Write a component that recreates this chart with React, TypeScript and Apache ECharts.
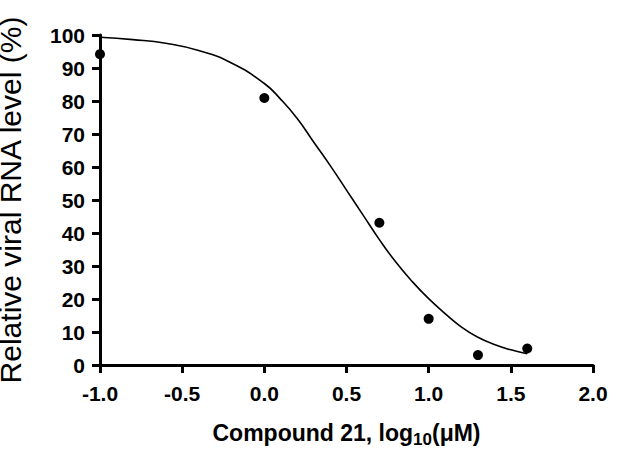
import React, { useEffect, useRef } from "react";
import * as echarts from "echarts";

const pointX = [-1.0, 0.0, 0.7, 1.0, 1.3, 1.6];
const pointY = [94.2, 80.9, 43.1, 14.0, 3.0, 5.0];

const curveX = [-1.0, -0.8, -0.6, -0.4, -0.2, 0.0, 0.1, 0.2, 0.3, 0.4, 0.5, 0.6, 0.7, 0.8, 0.9, 1.0, 1.1, 1.2, 1.3, 1.4, 1.5, 1.6];
const curveY = [99.3, 98.6, 97.5, 95.3, 91.5, 85.3, 80.5, 74.7, 67.6, 60.5, 53.0, 45.5, 38.0, 31.2, 25.3, 20.1, 15.6, 11.5, 8.4, 6.2, 4.6, 3.4];

const xTicks = { min: -1.0, max: 2.0, interval: 0.5 };
const yTicks = { min: 0, max: 100, interval: 10 };

const xTitle = "{a|Compound 21, log}{s|10}{a|(μM)}";
const yTitle = "Relative viral RNA level (%)";

export default function App() {
  const ref = useRef<HTMLDivElement>(null);
  useEffect(() => {
    if (!ref.current) return;
    const chart = echarts.init(ref.current, undefined, { renderer: "svg" });
    const font = "'Liberation Sans', Arial, Helvetica, sans-serif";
    chart.setOption({
      animation: false,
      backgroundColor: "#ffffff",
      grid: {
        left: 100,
        right: 25,
        top: 35,
        bottom: 89,
        containLabel: false,
        outerBoundsMode: "none",
      },
      xAxis: {
        type: "value",
        min: xTicks.min,
        max: xTicks.max,
        interval: xTicks.interval,
        name: xTitle,
        nameLocation: "middle",
        nameGap: 56,
        nameTextStyle: {
          rich: {
            a: { fontFamily: font, fontWeight: "bold", fontSize: 23, color: "#000", lineHeight: 26, verticalAlign: "top" },
            s: { fontFamily: font, fontWeight: "bold", fontSize: 17, color: "#000", lineHeight: 20, verticalAlign: "top", padding: [10, 0, 0, 0] },
          },
        },
        axisLine: { show: true, onZero: false, lineStyle: { color: "#000", width: 3 } },
        axisTick: { show: true, inside: false, length: 8, lineStyle: { color: "#000", width: 3 } },
        axisLabel: {
          fontFamily: font,
          fontWeight: "bold",
          fontSize: 21,
          color: "#000",
          margin: 18,
          formatter: (v: number) => v.toFixed(1),
        },
        splitLine: { show: false },
      },
      yAxis: {
        type: "value",
        min: yTicks.min,
        max: yTicks.max,
        interval: yTicks.interval,
        name: yTitle,
        nameLocation: "middle",
        nameGap: 75,
        nameRotate: 90,
        nameTextStyle: { fontFamily: font, fontSize: 30, color: "#000" },
        axisLine: { show: true, onZero: false, lineStyle: { color: "#000", width: 3 } },
        axisTick: { show: true, inside: false, length: 8, lineStyle: { color: "#000", width: 3 } },
        axisLabel: {
          fontFamily: font,
          fontWeight: "bold",
          fontSize: 21,
          color: "#000",
          margin: 15,
        },
        splitLine: { show: false },
      },
      series: [
        {
          type: "line",
          data: curveX.map((x, i) => [x, curveY[i]]),
          smooth: 0.5,
          showSymbol: false,
          lineStyle: { color: "#000", width: 1.6 },
          z: 2,
        },
        {
          type: "scatter",
          data: pointX.map((x, i) => [x, pointY[i]]),
          symbol: "circle",
          symbolSize: 10,
          itemStyle: { color: "#000", opacity: 1 },
          z: 3,
        },
      ],
    });
    return () => chart.dispose();
  }, []);
  return <div ref={ref} style={{ position: "fixed", left: 0, top: 0, width: 618, height: 454 }} />;
}
